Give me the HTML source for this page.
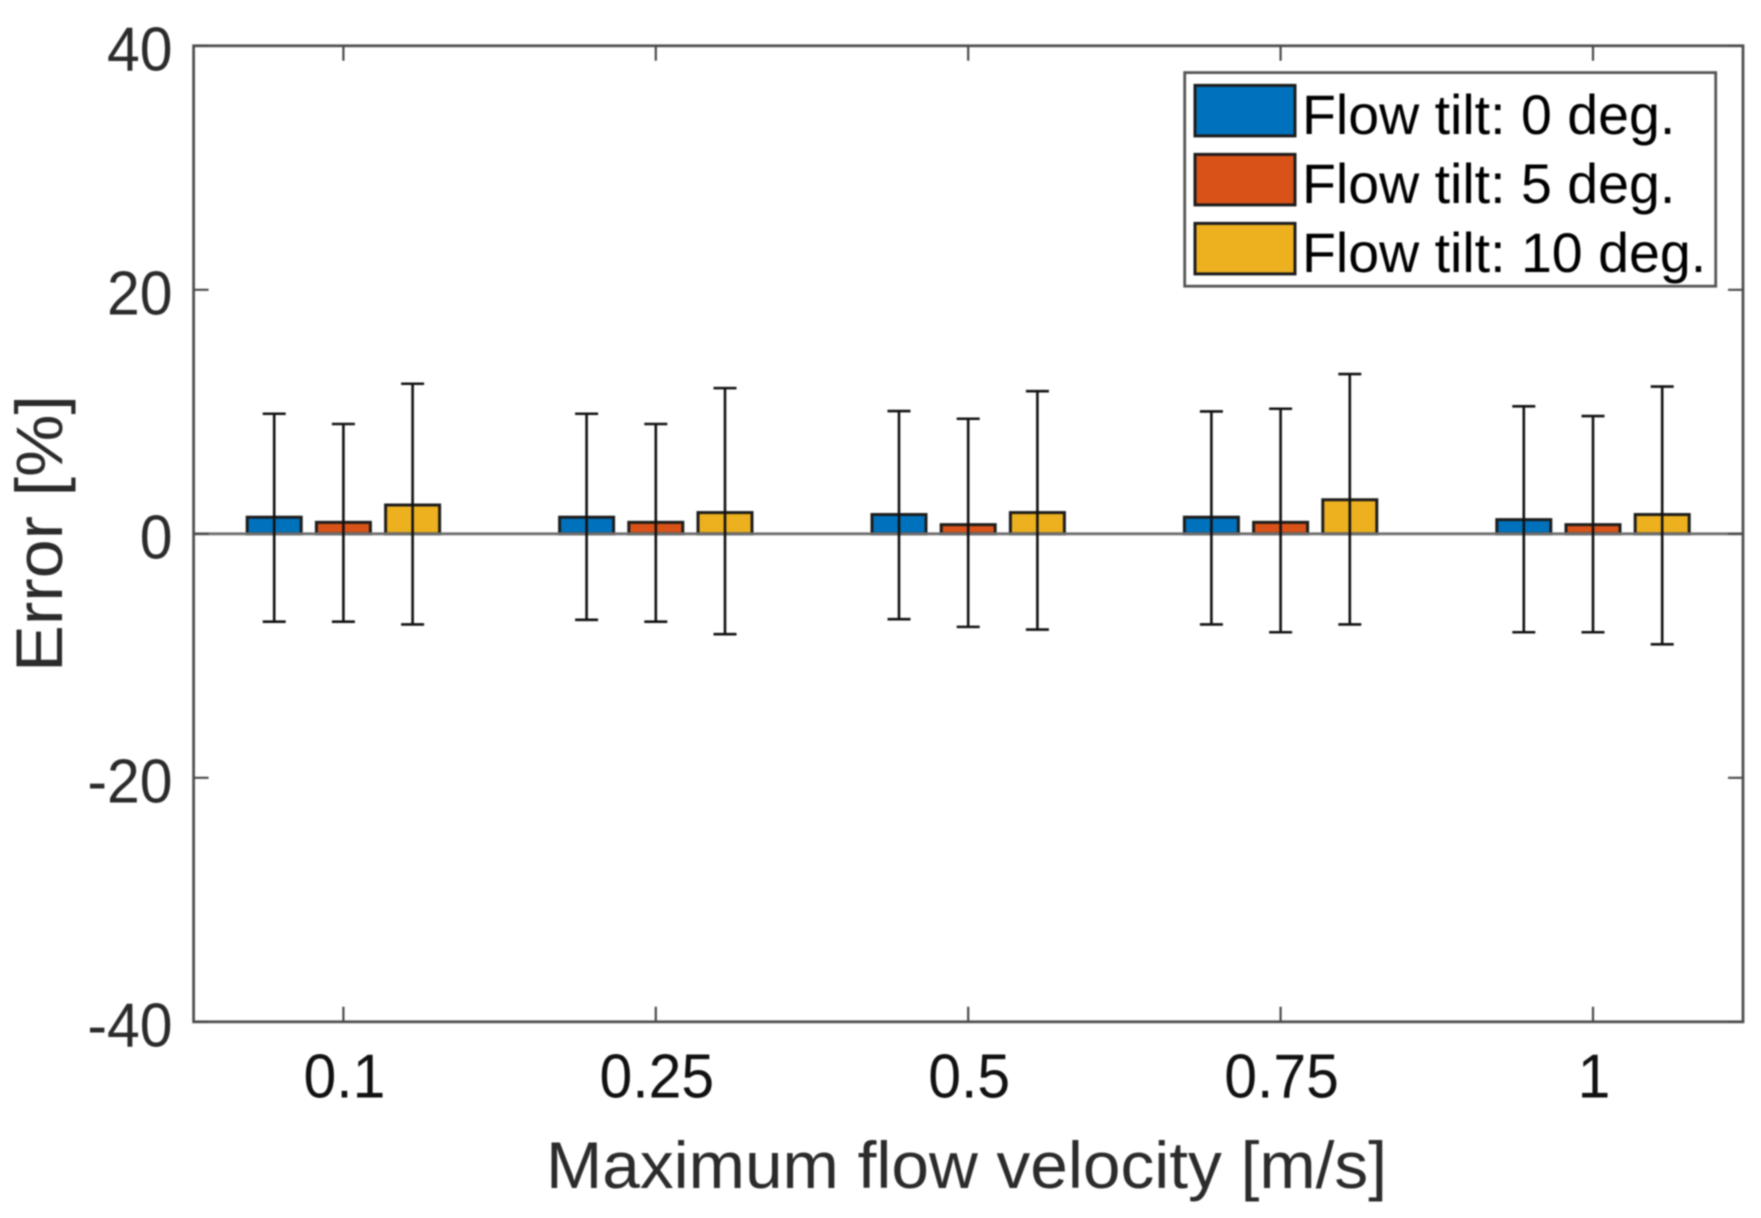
<!DOCTYPE html>
<html lang="en">
<head>
<meta charset="utf-8">
<title>Error vs maximum flow velocity</title>
<style>
  html, body { margin: 0; padding: 0; background: #fff; width: 1761px; height: 1218px; overflow: hidden; }
  svg { display: block; filter: blur(0.8px); }
  text { font-family: "Liberation Sans", Arial, sans-serif; }
</style>
</head>
<body>
<svg id="chart" xmlns="http://www.w3.org/2000/svg" width="1761" height="1218" viewBox="0 0 1761 1218">
  <rect x="0" y="0" width="1761" height="1218" fill="#fff"/>
  <g id="marks"></g>
  <g id="axes"></g>
  <text x="546" y="1188" font-size="66" fill="#2b2b2b" textLength="841" lengthAdjust="spacingAndGlyphs">Maximum flow velocity [m/s]</text>
  <text transform="translate(62 672) rotate(-90)" x="0" y="0" font-size="66" fill="#2b2b2b" textLength="277" lengthAdjust="spacingAndGlyphs">Error [%]</text>
  <g id="legend"></g>
</svg>
<script>
const categories = ['0.1', '0.25', '0.5', '0.75', '1'];
const seriesNames = ['Flow tilt: 0 deg.', 'Flow tilt: 5 deg.', 'Flow tilt: 10 deg.'];
const seriesColors = ['#0072BD', '#D95319', '#EDB120'];
const tilt0Values = [1.36, 1.36, 1.58, 1.36, 1.16];
const tilt5Values = [0.94, 0.94, 0.75, 0.94, 0.75];
const tilt10Values = [2.36, 1.74, 1.74, 2.79, 1.58];
const tilt0Upper = [9.84, 9.84, 10.06, 10.03, 10.45];
const tilt5Upper = [9.0, 9.0, 9.43, 10.25, 9.65];
const tilt10Upper = [12.3, 11.94, 11.69, 13.09, 12.07];
const tilt0Lower = [-7.2, -7.05, -7.0, -7.43, -8.07];
const tilt5Lower = [-7.2, -7.2, -7.63, -8.07, -8.07];
const tilt10Lower = [-7.43, -8.23, -7.85, -7.43, -9.06];
const yTicks = [40, 20, 0, -20, -40];

const NS = 'http://www.w3.org/2000/svg';
const plot = { left: 193.6, right: 1743, top: 45.8, bottom: 1021.8 };
const yMin = -40, yMax = 40;
const firstCat = 343.4, catStep = 312.4;
const barOffset = 69.2, barWidth = 54, capWidth = 23, tickLen = 15;
const labelSqueeze = 0.95;

function xScale(i) { return firstCat + catStep * i; }
function yScale(v) { return plot.bottom - (v - yMin) / (yMax - yMin) * (plot.bottom - plot.top); }

function make(tag, attrs, parent, text) {
  const el = document.createElementNS(NS, tag);
  for (const k in attrs) el.setAttribute(k, attrs[k]);
  if (text !== undefined) el.textContent = text;
  parent.appendChild(el);
  return el;
}

function squeeze(el) {
  el.setAttribute('textLength', el.getComputedTextLength() * labelSqueeze);
  el.setAttribute('lengthAdjust', 'spacingAndGlyphs');
}

const marks = document.getElementById('marks');
const axes = document.getElementById('axes');
const legend = document.getElementById('legend');

const allValues = [tilt0Values, tilt5Values, tilt10Values];
const allUpper = [tilt0Upper, tilt5Upper, tilt10Upper];
const allLower = [tilt0Lower, tilt5Lower, tilt10Lower];

// Bars
allValues.forEach(function (vals, s) {
  vals.forEach(function (v, i) {
    const cx = xScale(i) + (s - 1) * barOffset;
    const bar = make('rect', {
      x: cx - barWidth / 2, y: yScale(v), width: barWidth, height: yScale(0) - yScale(v),
      fill: seriesColors[s], stroke: '#1c1c1c', 'stroke-width': 3
    }, marks);
    
    
  });
});

// Baseline
const baseline = make('line', {
  x1: plot.left, x2: plot.right, y1: yScale(0), y2: yScale(0), stroke: '#6e6e6e', 'stroke-width': 2.8
}, marks);



// Error bars
allValues.forEach(function (vals, s) {
  vals.forEach(function (v, i) {
    const cx = xScale(i) + (s - 1) * barOffset;
    const up = yScale(allUpper[s][i]);
    const lo = yScale(allLower[s][i]);
    const d = 'M' + cx + ' ' + up + 'V' + lo +
      'M' + (cx - capWidth / 2) + ' ' + up + 'H' + (cx + capWidth / 2) +
      'M' + (cx - capWidth / 2) + ' ' + lo + 'H' + (cx + capWidth / 2);
    const err = make('path', { d: d, fill: 'none', stroke: '#111', 'stroke-width': 2.6 }, marks);
    
    
  });
});

// Axes box
const box = make('rect', {
  x: plot.left, y: plot.top, width: plot.right - plot.left, height: plot.bottom - plot.top,
  fill: 'none', stroke: '#505050', 'stroke-width': 2.8
}, axes);



// X ticks and labels
categories.forEach(function (c, i) {
  const x = xScale(i);
  const t = make('path', {
    d: 'M' + x + ' ' + plot.bottom + 'v' + (-tickLen) + 'M' + x + ' ' + plot.top + 'v' + tickLen,
    stroke: '#4a4a4a', 'stroke-width': 2.2, fill: 'none'
  }, axes);
  
  
  const l = make('text', {
    x: x + 1, y: 1097.5, 'font-size': 62, 'text-anchor': 'middle', fill: '#111'
  }, axes, c);
  
  
  squeeze(l);
});

// Y ticks and labels
yTicks.forEach(function (v) {
  const y = yScale(v);
  const t = make('path', {
    d: 'M' + plot.left + ' ' + y + 'h' + tickLen + 'M' + plot.right + ' ' + y + 'h' + (-tickLen),
    stroke: '#4a4a4a', 'stroke-width': 2.2, fill: 'none'
  }, axes);
  
  
  const l = make('text', {
    x: 172.5, y: y + 24.5, 'font-size': 62, 'text-anchor': 'end', fill: '#2b2b2b'
  }, axes, String(v));
  
  
  squeeze(l);
});

// Legend
const legendBox = make('rect', {
  x: 1184.7, y: 72.6, width: 531, height: 213.6, fill: '#fff', stroke: '#555', 'stroke-width': 2.8
}, legend);



seriesNames.forEach(function (name, s) {
  const top = 85.4 + s * 69;
  const sw = make('rect', {
    x: 1195, y: top, width: 100, height: 50.5, fill: seriesColors[s], stroke: '#1c1c1c', 'stroke-width': 3
  }, legend);
  
  
  const tx = make('text', {
    x: 1302, y: top + 48.5, 'font-size': 55.5, fill: '#000'
  }, legend, name);
  
  
});
</script>
</body>
</html>
